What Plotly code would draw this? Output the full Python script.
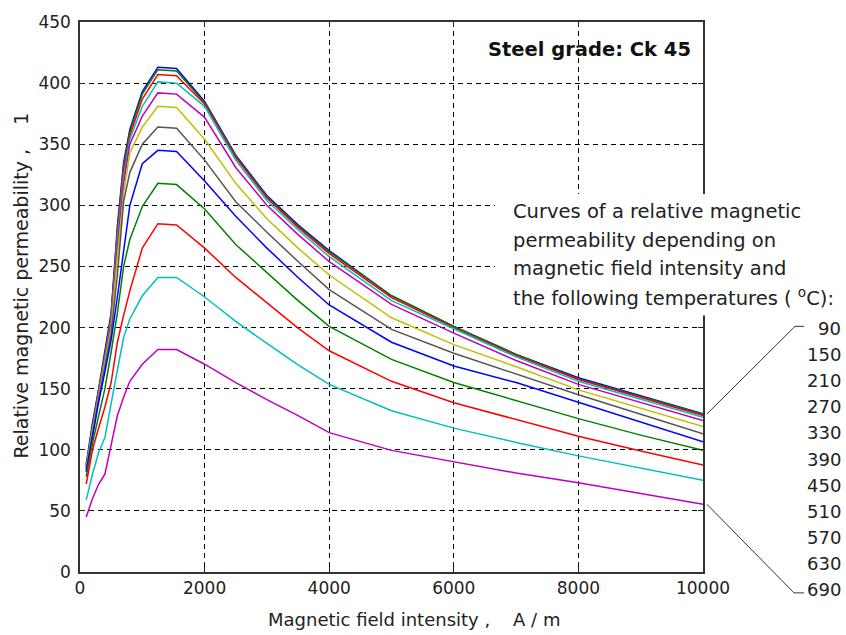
import plotly.graph_objects as go

# ---------------- data ----------------
field_intensity = [100, 200, 300, 400, 500, 600, 700, 800, 1000, 1250, 1550, 2000,
                   2500, 3000, 3500, 4000, 5000, 6000, 7000, 8000, 9000, 10000]

mu_1 = [88, 122, 150, 180, 212, 283, 335, 362, 393, 413, 412, 385, 341, 308, 284, 263, 226, 201, 178, 159, 144, 129.5]
mu_2 = [87, 120, 149, 178, 210, 280, 332, 360, 391, 411, 410, 384, 340, 307, 283, 262, 226, 201, 178, 158, 143.5, 129]
mu_3 = [86, 119, 148, 176, 208, 276, 328, 357, 387, 407, 406, 383, 339, 306, 282, 260.5, 224.5, 200, 177, 157.5, 142.5, 128]
mu_4 = [85, 118, 147, 175, 206, 272, 323, 354, 381, 401, 400, 381, 337, 304, 280, 258, 222, 199, 176, 156, 141, 126.5]
mu_5 = [85, 117, 146, 173, 204, 266, 318, 350, 373, 392, 391, 372, 331, 300, 276, 254, 219, 195.5, 173, 153.5, 138.5, 124]
mu_6 = [84, 116, 144, 171, 200, 258, 310, 343, 364, 381, 380, 354, 318, 289, 265, 243, 208, 186, 168, 149, 134, 119]
mu_7 = [83, 114, 142, 168, 195, 243, 303, 327, 350, 364, 363, 337, 303, 278, 254, 231, 198.5, 179, 162, 145, 129, 113]
mu_8 = [82, 111, 139, 164, 190, 225, 262, 300, 334, 345, 344, 320, 291, 265, 241, 218.5, 188, 168.5, 155, 139, 123, 106.5]
mu_9 = [78, 105, 128, 150, 180, 212, 250, 272, 299, 318, 317, 297, 268, 245, 222, 201, 174, 155, 140, 125.5, 112, 99.5]
mu_10 = [72, 100, 118, 135, 155, 188, 210, 230, 265, 285, 284, 265, 241, 220, 199.5, 181, 156, 138.5, 124.5, 111, 99, 87.5]
mu_11 = [59, 80, 98, 110, 138, 166, 192, 207, 226, 241, 241, 225, 205, 187, 169.5, 153.5, 132, 117.7, 106, 95, 85, 75]
mu_12 = [45, 60, 72, 80, 104, 128, 143, 156, 170, 182, 182, 170, 155, 141, 128, 114, 99.5, 90, 81, 73, 64, 55.5]

curves = [mu_1, mu_2, mu_3, mu_4, mu_5, mu_6, mu_7, mu_8, mu_9, mu_10, mu_11, mu_12]
curve_colors = ["#0000FF", "#008000", "#FF0000", "#00BFBF", "#BF00BF", "#BFBF00", "#555555",
                "#0000FF", "#008000", "#FF0000", "#00BFBF", "#BF00BF"]

temperature_labels = ["90", "150", "210", "270", "330", "390", "450", "510", "570", "630", "690"]

x_ticks = [0, 2000, 4000, 6000, 8000, 10000]
y_ticks = [0, 50, 100, 150, 200, 250, 300, 350, 400, 450]

# ---------------- figure ----------------
W, H = 846, 635
L, R, T, B = 80, 703, 19, 572
FONT = "DejaVu Sans"


def px(xp):
    return (xp - L) / (R - L)


def py(yp):
    return (B - yp) / (B - T)


fig = go.Figure()
for vals, col in zip(curves, curve_colors):
    fig.add_trace(go.Scatter(x=field_intensity, y=vals, mode="lines",
                             line=dict(color=col, width=1.5), showlegend=False,
                             hoverinfo="skip"))

axis_common = dict(showline=True, linecolor="#333333", linewidth=1.5, mirror="ticks",
                   ticks="inside", ticklen=5, tickcolor="#222222",
                   showgrid=True, gridcolor="#000000", gridwidth=1, griddash="5px,4px",
                   zeroline=False, tickfont=dict(family=FONT, size=17, color="#222222"))

fig.update_xaxes(range=[0, 10000], tickvals=x_ticks, ticktext=[str(v) for v in x_ticks],
                 **axis_common)
fig.update_yaxes(range=[0, 450], tickvals=y_ticks, ticktext=[str(v) for v in y_ticks],
                 ticklabelstandoff=4, **axis_common)

annotations = []
# axis titles
annotations.append(dict(text="Magnetic field intensity ,    A / m", xref="paper", yref="paper",
                        x=px(414), y=py(620), showarrow=False, xanchor="center", yanchor="middle",
                        font=dict(family=FONT, size=18, color="#222222")))
annotations.append(dict(text="Relative magnetic permeability ,    1", xref="paper", yref="paper",
                        x=px(21), y=py(284), showarrow=False, textangle=-90,
                        xanchor="center", yanchor="middle",
                        font=dict(family=FONT, size=19, color="#222222")))
# grade label
annotations.append(dict(text="<b>Steel grade: Ck 45</b>", xref="paper", yref="paper",
                        x=px(693), y=py(47), showarrow=False, xanchor="right", yanchor="middle",
                        font=dict(family=FONT, size=19.5, color="#111111")))
# description
desc_lines = ["Curves of a relative magnetic", "permeability depending on",
              "magnetic field intensity and", "the following temperatures ( <sup>o</sup>C):"]
desc_y = [210, 238.5, 267, 295.5]
for t, yy in zip(desc_lines, desc_y):
    annotations.append(dict(text=t, xref="paper", yref="paper", x=px(511), y=py(yy),
                            showarrow=False, xanchor="left", yanchor="middle",
                            font=dict(family=FONT, size=19.5, color="#222222")))
# temperature labels
y_first, y_last = 327, 590
n = len(temperature_labels)
for i, t in enumerate(temperature_labels):
    yy = y_first + (y_last - y_first) * i / (n - 1)
    annotations.append(dict(text=t, xref="paper", yref="paper", x=px(843), y=py(yy),
                            showarrow=False, xanchor="right", yanchor="middle",
                            font=dict(family=FONT, size=18, color="#222222")))

shapes = []
# white box behind description
shapes.append(dict(type="rect", xref="paper", yref="paper", x0=px(495), x1=px(846),
                   y0=py(314), y1=py(192), fillcolor="white", line=dict(width=0), layer="above"))
# leader lines
shapes.append(dict(type="path", xref="paper", yref="paper",
                   path=f"M {px(707)},{py(413)} L {px(795)},{py(325)} L {px(804)},{py(325)}",
                   line=dict(color="#333333", width=1)))
shapes.append(dict(type="path", xref="paper", yref="paper",
                   path=f"M {px(707)},{py(504)} L {px(794)},{py(593)} L {px(804)},{py(593)}",
                   line=dict(color="#333333", width=1)))

fig.update_layout(width=W, height=H, margin=dict(l=L, r=W - R, t=T, b=H - B, pad=0),
                  paper_bgcolor="white", plot_bgcolor="white", showlegend=False,
                  annotations=annotations, shapes=shapes)

fig.write_html("out.html")
